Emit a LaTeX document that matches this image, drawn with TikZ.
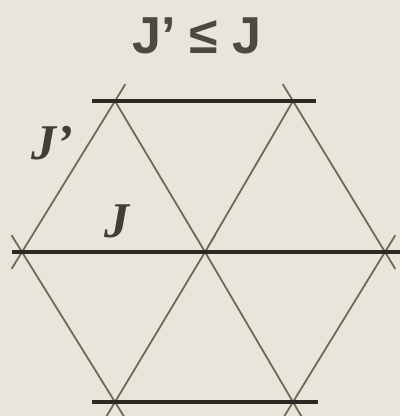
\documentclass[tikz,border=0pt]{standalone}
\usepackage{fontspec}
\setmainfont{Liberation Serif}
\setsansfont{Liberation Sans}
\usetikzlibrary{positioning}

\definecolor{paper}{HTML}{E8E6DA}
\definecolor{ink}{HTML}{2C2822}
\definecolor{pencil}{HTML}{75665A}

\begin{document}
\begin{tikzpicture}[x=1pt, y=-1pt,
    vertex/.style={inner sep=0pt, minimum size=0pt},
    chainLine/.style={line width=4.5pt, draw=ink, line cap=butt},
    guideLine/.style={line width=1.8pt, draw=pencil, shorten >=-20pt, shorten <=-20pt},
    titleText/.style={text=ink!85, font=\sffamily\bfseries\fontsize{52}{56}\selectfont},
    bondText/.style={text=ink!90, font=\rmfamily\bfseries\itshape\fontsize{50}{54}\selectfont}]

  % Background
  \fill[paper] (0,0) rectangle (400,416);
  \useasboundingbox (0,0) rectangle (400,416);

  % Lattice points
  \node[vertex] (tl) at (115,101) {};
  \node[vertex] (tr) at (293,101) {};
  \node[vertex] (ml) at (22,252) {};
  \node[vertex] (mc) at (205,252) {};
  \node[vertex] (mr) at (385,252) {};
  \node[vertex] (bl) at (115,402) {};
  \node[vertex] (br) at (293,402) {};

  % Thin lines
  \draw[guideLine] (ml) -- (tl);
  \draw[guideLine] (tl) -- (mc) -- (br);
  \draw[guideLine] (tr) -- (mc) -- (bl);
  \draw[guideLine] (tr) -- (mr);
  \draw[guideLine] (ml) -- (bl);
  \draw[guideLine] (mr) -- (br);

  % Chains
  \draw[chainLine, shorten <=-23pt, shorten >=-23pt] (tl) -- (tr);
  \draw[chainLine, shorten <=-10pt, shorten >=-15pt] (ml) -- (mr);
  \draw[chainLine, shorten <=-23pt, shorten >=-25pt] (bl) -- (br);

  % Labels
  \node[titleText] (title) at (197,36) {J’ ≤ J};
  \node[bondText] (lblJp) at (52,143) {J’};
  \node[bondText] (lblJ) at (117,221) {J};

\end{tikzpicture}
\end{document}
